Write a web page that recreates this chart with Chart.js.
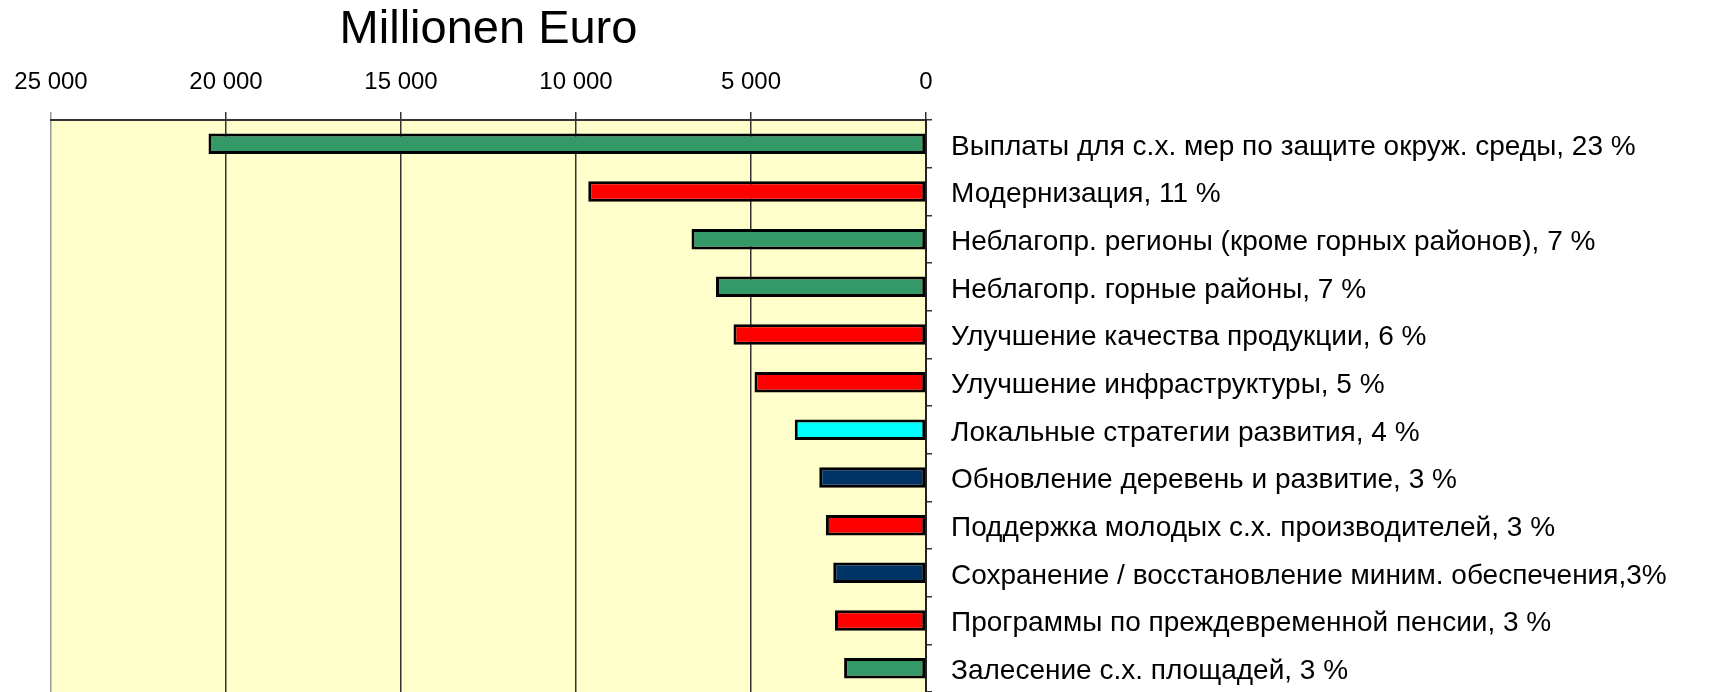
<!DOCTYPE html>
<html>
<head>
<meta charset="utf-8">
<script src="https://cdn.jsdelivr.net/npm/chart.js@4.4.1/dist/chart.umd.min.js"></script>
<style>
  html, body { margin: 0; padding: 0; background: #fff; }
  #wrap { width: 1709px; height: 692px; }
</style>
</head>
<body>
<div id="wrap"><canvas id="bars" width="1709" height="692"></canvas></div>
<script>
const categories = [
  'Выплаты для с.х. мер по защите окруж. среды, 23 %',
  'Модернизация, 11 %',
  'Неблагопр. регионы (кроме горных районов), 7 %',
  'Неблагопр. горные районы, 7 %',
  'Улучшение качества продукции, 6 %',
  'Улучшение инфраструктуры, 5 %',
  'Локальные стратегии развития, 4 %',
  'Обновление деревень и развитие, 3 %',
  'Поддержка молодых с.х. производителей, 3 %',
  'Сохранение / восстановление миним. обеспечения,3%',
  'Программы по преждевременной пенсии, 3 %',
  'Залесение с.х. площадей, 3 %',
];
const values = [20500, 9650, 6700, 6000, 5500, 4900, 3750, 3050, 2860, 2650, 2600, 2340];
const barColors = [
  '#339966', '#ff0000', '#339966', '#339966', '#ff0000', '#ff0000',
  '#00ffff', '#003366', '#ff0000', '#003366', '#ff0000', '#339966',
];
const tickValues = [0, 5000, 10000, 15000, 20000, 25000];

// 25000 -> "25 000"
const withSpaces = (v) => String(v).replace(/\B(?=(\d{3})+(?!\d))/g, ' ');

const plotBackground = {
  id: 'plotBackground',
  beforeDraw(chart) {
    const { ctx, chartArea: a } = chart;
    ctx.save();
    ctx.fillStyle = '#ffffcc';
    ctx.fillRect(a.left, a.top, a.right - a.left, a.bottom - a.top);
    ctx.restore();
  },
};

new Chart(document.getElementById('bars').getContext('2d'), {
  type: 'bar',
  data: {
    labels: categories,
    datasets: [
      {
        data: values,
        backgroundColor: barColors,
        borderColor: '#000',
        borderWidth: 3,
        borderSkipped: false,
        barPercentage: 0.43,
        categoryPercentage: 1,
      },
    ],
  },
  options: {
    indexAxis: 'y',
    responsive: false,
    animation: false,
    layout: {
      padding: { left: 51, top: 0, right: 0, bottom: 0 },
    },
    plugins: {
      legend: { display: false },
      tooltip: { enabled: false },
    },
    scales: {
      x: {
        position: 'top',
        reverse: true,
        min: 0,
        max: 25000,
        afterBuildTicks: (scale) => {
          scale.ticks = tickValues.map((v) => ({ value: v }));
        },
        afterFit: (scale) => {
          scale.height = 120;
        },
        border: { color: '#333', width: 2 },
        grid: {
          color: (ctx) => (ctx.tick && ctx.tick.value === 25000 ? '#999' : '#333'),
          lineWidth: 1.5,
          tickLength: 8,
        },
        ticks: {
          color: '#000',
          padding: 15,
          maxRotation: 0,
          autoSkip: false,
          font: { family: 'Liberation Sans', size: 24 },
          callback: (v) => withSpaces(v),
        },
        title: {
          display: true,
          text: 'Millionen Euro',
          color: '#000',
          font: { family: 'Liberation Sans', size: 47 },
          padding: { top: 2, bottom: 0 },
        },
      },
      y: {
        position: 'right',
        afterFit: (scale) => {
          scale.width = 783;
          // let the plot run down to the bottom edge like the original
          scale.paddingTop = 0;
          scale.paddingBottom = 0;
        },
        border: { color: '#222', width: 2 },
        grid: {
          drawOnChartArea: false,
          color: '#333',
          lineWidth: 1.5,
          tickLength: 6,
        },
        ticks: {
          color: '#000',
          padding: 19,
          labelOffset: 3,
          autoSkip: false,
          font: { family: 'Liberation Sans', size: 28 },
        },
      },
    },
  },
  plugins: [plotBackground],
});
</script>
</body>
</html>
